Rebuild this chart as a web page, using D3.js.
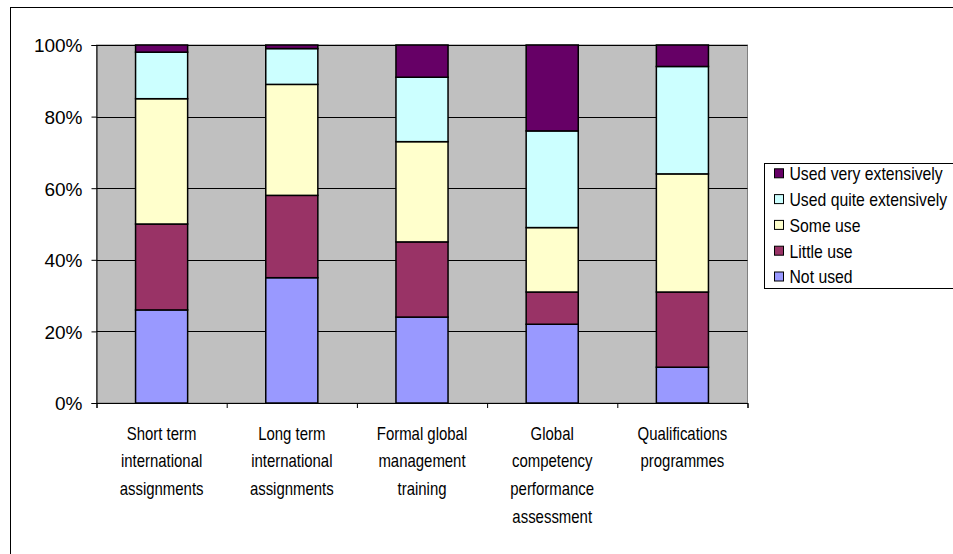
<!DOCTYPE html>
<html>
<head>
<meta charset="utf-8">
<script src="https://cdn.jsdelivr.net/npm/d3@7"></script>
<style>
  html, body { margin: 0; padding: 0; background: #fff; }
  svg { display: block; }
</style>
</head>
<body>
<svg id="chart" width="953" height="554"></svg>
<script>
const categories = [
  ["Short term", "international", "assignments"],
  ["Long term", "international", "assignments"],
  ["Formal global", "management", "training"],
  ["Global", "competency", "performance", "assessment"],
  ["Qualifications", "programmes"]
];
const seriesNames = ["Not used", "Little use", "Some use", "Used quite extensively", "Used very extensively"];
const notUsed      = [26, 35, 24, 22, 10];
const littleUse    = [24, 23, 21, 9, 21];
const someUse      = [35, 31, 28, 18, 33];
const quiteExt     = [13, 10, 18, 27, 30];
const veryExt      = [2, 1, 9, 24, 6];
const yTicks = [0, 0.2, 0.4, 0.6, 0.8, 1.0];
const seriesColors = ["#9999FF", "#993366", "#FFFFCC", "#CCFFFF", "#660066"];

const seriesValues = [notUsed, littleUse, someUse, quiteExt, veryExt];
const rows = categories.map((c, i) => {
  const r = { key: i };
  seriesNames.forEach((s, j) => r[s] = seriesValues[j][i] / 100);
  return r;
});

const FONT = "'Liberation Sans', Arial, sans-serif";
const NARROW = 0.83;

const svg = d3.select("#chart");
const plot = { left: 96.5, right: 747.5, top: 45, bottom: 403 };

// outer chart border
svg.append("rect").attr("x", 10.5).attr("y", 7.5).attr("width", 1000).attr("height", 700)
  .attr("fill", "#fff").attr("stroke", "#000").attr("stroke-width", 1);

const x = d3.scaleBand().domain(d3.range(categories.length))
  .range([plot.left, plot.right]).paddingInner(0.6).paddingOuter(0.3);
const y = d3.scaleLinear().domain([0, 1]).range([plot.bottom, plot.top]);

// plot area
svg.append("rect").attr("x", plot.left).attr("y", plot.top)
  .attr("width", plot.right - plot.left).attr("height", plot.bottom - plot.top)
  .attr("fill", "#C0C0C0").attr("stroke", "#808080").attr("stroke-width", 1);

// gridlines
svg.append("g").selectAll("line").data(yTicks.filter(t => t > 0)).join("line")
  .attr("x1", plot.left).attr("x2", plot.right)
  .attr("y1", d => Math.round(y(d)) + 0.5).attr("y2", d => Math.round(y(d)) + 0.5)
  .attr("stroke", "#000").attr("stroke-width", 1);

// stacked bars
const stack = d3.stack().keys(seriesNames)(rows);
svg.append("g").selectAll("g").data(stack).join("g")
  .attr("fill", (d, i) => seriesColors[i])
  .selectAll("rect").data(d => d).join("rect")
  .attr("x", d => x(d.data.key))
  .attr("width", x.bandwidth())
  .attr("y", d => y(d[1]))
  .attr("height", d => y(d[0]) - y(d[1]))
  .attr("stroke", "#000").attr("stroke-width", 1.5);

// y axis
const yAxis = d3.axisLeft(y).tickValues(yTicks).tickFormat(d3.format(".0%")).tickSize(5).tickPadding(9);
const gy = svg.append("g").attr("transform", `translate(${plot.left},0)`).call(yAxis);
gy.select(".domain").attr("stroke", "#000");
gy.selectAll(".tick line").attr("stroke", "#000");
gy.selectAll("text").attr("font-family", FONT)
  .attr("font-size", 19).attr("fill", "#000").attr("dy", "0.36em");

// x axis with ticks at category boundaries
const xb = d3.scaleLinear().domain([0, categories.length]).range([plot.left, plot.right]);
const xAxis = d3.axisBottom(xb).tickValues(d3.range(categories.length + 1)).tickSize(5).tickFormat("");
const gx = svg.append("g").attr("transform", `translate(0,${plot.bottom})`).call(xAxis);
gx.select(".domain").attr("stroke", "#000");
gx.selectAll(".tick line").attr("stroke", "#000");

// category labels (condensed)
const labels = svg.append("g").attr("font-family", FONT)
  .attr("font-size", 18).attr("fill", "#000").attr("text-anchor", "middle");
categories.forEach((lines, i) => {
  const cx = x(i) + x.bandwidth() / 2;
  const t = labels.append("text").attr("transform", `translate(${cx},439.5) scale(${NARROW},1)`);
  lines.forEach((ln, k) => {
    t.append("tspan").attr("x", 0).attr("dy", k === 0 ? 0 : 27.8).text(ln);
  });
});

// legend
const lg = svg.append("g");
lg.append("rect").attr("x", 764.5).attr("y", 163.5).attr("width", 260).attr("height", 125)
  .attr("fill", "#fff").attr("stroke", "#000").attr("stroke-width", 1);
const legendOrder = seriesNames.map((s, i) => i).reverse();
legendOrder.forEach((si, k) => {
  const cy = 173.3 + k * 25.8;
  lg.append("rect").attr("x", 774.5).attr("y", cy - 4.5).attr("width", 9).attr("height", 9)
    .attr("fill", seriesColors[si]).attr("stroke", "#000").attr("stroke-width", 1);
  lg.append("text").attr("transform", `translate(789.5,${cy}) scale(${NARROW},1)`).attr("dy", "0.36em")
    .attr("font-family", FONT)
    .attr("font-size", 19).attr("fill", "#000").text(seriesNames[si]);
});
</script>
</body>
</html>
